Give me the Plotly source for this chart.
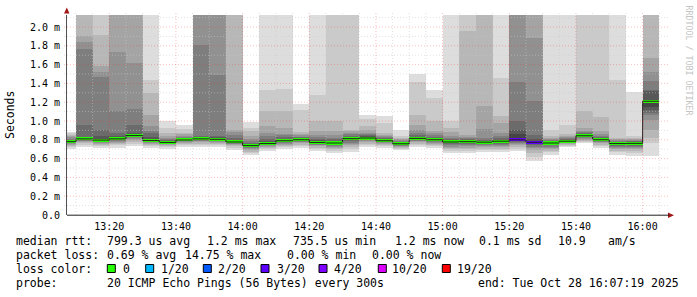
import plotly.graph_objects as go
import pandas as pd

# ---------------- data (ms) ----------------
# 20 sorted ping RTTs per 5-minute interval (values above ~2.13 ms are clipped by the axis)
s00 = [0.700, 0.720, 0.735, 0.745, 0.755, 0.762, 0.768, 0.772, 0.776, 0.779, 0.782, 0.786, 0.790, 0.800, 0.810, 0.825, 0.840, 0.855, 0.870, 0.880]
s01 = [0.725, 0.750, 0.765, 0.775, 0.785, 0.792, 0.797, 0.801, 0.805, 0.808, 0.812, 0.818, 0.830, 0.960, 1.770, 1.840, 1.900, 2.300, 2.500, 2.700]
s02 = [0.710, 0.735, 0.750, 0.760, 0.770, 0.778, 0.784, 0.789, 0.793, 0.795, 0.800, 0.810, 0.840, 0.907, 1.470, 1.520, 1.590, 1.920, 2.400, 2.800]
s03 = [0.715, 0.740, 0.755, 0.768, 0.778, 0.787, 0.794, 0.800, 0.804, 0.807, 0.815, 0.830, 0.845, 0.872, 1.110, 1.730, 2.200, 2.400, 2.600, 2.800]
s04 = [0.735, 0.760, 0.780, 0.795, 0.810, 0.820, 0.828, 0.834, 0.839, 0.842, 0.850, 0.860, 0.872, 0.961, 1.131, 1.617, 2.200, 2.400, 2.600, 2.800]
s05 = [0.715, 0.735, 0.750, 0.760, 0.768, 0.775, 0.780, 0.785, 0.788, 0.790, 0.800, 0.810, 0.830, 0.870, 0.890, 0.943, 1.067, 1.297, 1.432, 2.500]
s06 = [0.700, 0.720, 0.735, 0.745, 0.752, 0.758, 0.763, 0.766, 0.769, 0.771, 0.775, 0.780, 0.785, 0.795, 0.805, 0.820, 0.840, 0.870, 0.925, 1.003]
s07 = [0.720, 0.740, 0.755, 0.765, 0.775, 0.782, 0.787, 0.791, 0.794, 0.796, 0.800, 0.805, 0.810, 0.820, 0.830, 0.845, 0.860, 0.872, 0.918, 0.961]
s08 = [0.720, 0.745, 0.760, 0.772, 0.782, 0.790, 0.797, 0.802, 0.806, 0.808, 0.815, 0.825, 0.835, 0.845, 1.810, 2.200, 2.350, 2.500, 2.650, 2.800]
s09 = [0.720, 0.740, 0.755, 0.767, 0.777, 0.785, 0.792, 0.797, 0.801, 0.803, 0.810, 0.820, 0.830, 0.840, 1.493, 2.200, 2.350, 2.500, 2.650, 2.800]
s10 = [0.690, 0.715, 0.730, 0.742, 0.752, 0.760, 0.766, 0.770, 0.773, 0.775, 0.780, 0.790, 0.800, 0.820, 0.850, 0.880, 0.907, 2.300, 2.500, 2.700]
s11 = [0.640, 0.660, 0.675, 0.690, 0.700, 0.710, 0.720, 0.728, 0.733, 0.737, 0.745, 0.752, 0.760, 0.770, 0.785, 0.810, 0.840, 0.890, 0.925, 0.985]
s12 = [0.680, 0.700, 0.715, 0.725, 0.735, 0.742, 0.748, 0.752, 0.756, 0.758, 0.765, 0.775, 0.790, 0.810, 0.840, 0.872, 0.950, 1.110, 1.326, 2.500]
s13 = [0.700, 0.720, 0.735, 0.748, 0.758, 0.767, 0.775, 0.780, 0.785, 0.788, 0.795, 0.800, 0.810, 0.830, 0.850, 0.865, 0.925, 1.103, 1.340, 2.500]
s14 = [0.715, 0.735, 0.750, 0.762, 0.772, 0.780, 0.787, 0.792, 0.796, 0.799, 0.805, 0.810, 0.815, 0.825, 0.835, 0.850, 0.865, 0.880, 1.120, 1.184]
s15 = [0.680, 0.700, 0.718, 0.730, 0.742, 0.750, 0.757, 0.763, 0.767, 0.770, 0.778, 0.785, 0.795, 0.810, 0.830, 0.850, 0.890, 1.000, 1.280, 2.500]
s16 = [0.660, 0.680, 0.700, 0.715, 0.728, 0.738, 0.747, 0.754, 0.760, 0.764, 0.770, 0.778, 0.790, 0.805, 0.820, 0.850, 0.890, 0.996, 2.300, 2.600]
s17 = [0.670, 0.700, 0.720, 0.740, 0.755, 0.770, 0.783, 0.795, 0.803, 0.809, 0.817, 0.825, 0.835, 0.845, 0.860, 0.875, 0.890, 0.907, 2.300, 2.600]
s18 = [0.720, 0.745, 0.760, 0.775, 0.787, 0.797, 0.804, 0.810, 0.814, 0.817, 0.823, 0.830, 0.838, 0.848, 0.860, 0.870, 0.900, 0.950, 1.020, 1.067]
s19 = [0.710, 0.730, 0.745, 0.757, 0.767, 0.774, 0.780, 0.784, 0.787, 0.789, 0.793, 0.798, 0.805, 0.815, 0.830, 0.840, 0.855, 0.870, 0.980, 1.050]
s20 = [0.687, 0.700, 0.712, 0.722, 0.730, 0.737, 0.743, 0.748, 0.752, 0.755, 0.762, 0.767, 0.773, 0.780, 0.788, 0.797, 0.807, 0.820, 0.843, 0.907]
s21 = [0.720, 0.745, 0.760, 0.772, 0.782, 0.790, 0.797, 0.803, 0.808, 0.812, 0.818, 0.825, 0.835, 0.850, 0.870, 0.907, 0.960, 1.060, 1.415, 1.503]
s22 = [0.710, 0.730, 0.745, 0.757, 0.767, 0.776, 0.783, 0.790, 0.795, 0.798, 0.805, 0.812, 0.820, 0.835, 0.850, 0.870, 0.890, 0.996, 1.250, 1.333]
s23 = [0.660, 0.685, 0.700, 0.715, 0.728, 0.740, 0.752, 0.762, 0.769, 0.774, 0.780, 0.787, 0.795, 0.805, 0.820, 0.845, 0.880, 0.930, 1.000, 2.500]
s24 = [0.660, 0.685, 0.700, 0.715, 0.730, 0.742, 0.755, 0.765, 0.772, 0.777, 0.785, 0.790, 0.800, 0.810, 0.820, 0.835, 0.854, 1.953, 2.400, 2.700]
s25 = [0.670, 0.690, 0.705, 0.720, 0.733, 0.745, 0.755, 0.763, 0.769, 0.773, 0.778, 0.783, 0.790, 0.800, 0.820, 0.915, 1.155, 2.300, 2.500, 2.700]
s26 = [0.670, 0.690, 0.705, 0.720, 0.735, 0.748, 0.758, 0.768, 0.776, 0.782, 0.790, 0.795, 0.803, 0.815, 0.840, 0.872, 0.980, 1.055, 1.457, 2.500]
s27 = [0.677, 0.700, 0.720, 0.740, 0.755, 0.768, 0.778, 0.786, 0.792, 0.797, 0.820, 0.860, 0.907, 0.996, 1.420, 2.200, 2.350, 2.500, 2.650, 2.800]
s28 = [0.570, 0.620, 0.660, 0.690, 0.710, 0.728, 0.742, 0.754, 0.764, 0.770, 0.780, 0.790, 0.810, 0.854, 1.210, 1.883, 2.300, 2.450, 2.600, 2.750]
s29 = [0.640, 0.665, 0.685, 0.700, 0.715, 0.728, 0.740, 0.750, 0.758, 0.763, 0.770, 0.775, 0.780, 0.788, 0.797, 0.807, 0.820, 0.836, 0.907, 2.500]
s30 = [0.720, 0.735, 0.748, 0.758, 0.765, 0.770, 0.775, 0.779, 0.782, 0.784, 0.790, 0.795, 0.800, 0.810, 0.820, 0.830, 0.845, 0.862, 0.961, 2.500]
s31 = [0.766, 0.780, 0.792, 0.802, 0.810, 0.818, 0.825, 0.832, 0.837, 0.840, 0.848, 0.855, 0.862, 0.870, 0.880, 0.895, 0.925, 1.102, 2.300, 2.600]
s32 = [0.713, 0.735, 0.750, 0.762, 0.772, 0.780, 0.787, 0.792, 0.796, 0.799, 0.805, 0.810, 0.820, 0.830, 0.845, 0.865, 0.890, 1.042, 2.300, 2.600]
s33 = [0.640, 0.665, 0.685, 0.700, 0.713, 0.725, 0.735, 0.745, 0.752, 0.757, 0.765, 0.770, 0.775, 0.780, 0.787, 0.795, 0.805, 0.820, 1.432, 2.500]
s34 = [0.624, 0.660, 0.685, 0.700, 0.715, 0.728, 0.738, 0.748, 0.755, 0.759, 0.765, 0.770, 0.775, 0.782, 0.790, 0.798, 0.806, 0.815, 0.836, 1.305]
s35 = [0.624, 0.766, 0.820, 0.907, 1.010, 1.066, 1.090, 1.120, 1.150, 1.195, 1.215, 1.227, 1.315, 1.330, 1.421, 1.517, 1.669, 2.300, 2.500, 2.700]

pings = [s00, s01, s02, s03, s04, s05, s06, s07, s08, s09, s10, s11, s12, s13, s14, s15, s16, s17,
         s18, s19, s20, s21, s22, s23, s24, s25, s26, s27, s28, s29, s30, s31, s32, s33, s34, s35]

median_rtt = [0.780, 0.810, 0.797, 0.810, 0.845, 0.792, 0.772, 0.798, 0.810, 0.805, 0.777, 0.738,
              0.760, 0.790, 0.801, 0.772, 0.766, 0.812, 0.819, 0.790, 0.758, 0.815, 0.801, 0.777,
              0.780, 0.775, 0.785, 0.800, 0.773, 0.766, 0.785, 0.843, 0.801, 0.760, 0.762, 1.210]

loss_pct = [0, 0, 0, 0, 0, 0, 0, 0, 0, 0, 0, 0, 0, 0, 0, 0, 0, 0,
            0, 0, 0, 0, 0, 0, 0, 0, 0, 10.05, 14.75, 0, 0, 0, 0, 0, 0, 0]

loss_labels = ["0", "1/20", "2/20", "3/20", "4/20", "10/20", "19/20"]
loss_thresholds = [0, 1, 2, 3, 4, 10, 19]
loss_colors = ["#26ff00", "#00b8ff", "#0059ff", "#5e00ff", "#7e00ff", "#dd00ff", "#ff0000"]

y_tickvals = [0.0, 0.2, 0.4, 0.6, 0.8, 1.0, 1.2, 1.4, 1.6, 1.8, 2.0]
y_ticktext = ["0.0", "0.2 m", "0.4 m", "0.6 m", "0.8 m", "1.0 m", "1.2 m", "1.4 m", "1.6 m", "1.8 m", "2.0 m"]

stats_rtt = ["median rtt:", "799.3 us avg", "1.2 ms max", "735.5 us min", "1.2 ms now", "0.1 ms sd", "10.9", "am/s"]
stats_loss = ["packet loss:", "0.69 % avg", "14.75 % max", "0.00 % min", "0.00 % now"]
probe_text = ["probe:", "20 ICMP Echo Pings (56 Bytes) every 300s", "end: Tue Oct 28 16:07:19 2025"]

# ---------------- helpers ----------------
interval_start = pd.date_range("2025-10-28 13:05:00", periods=len(pings), freq="5min")
step = pd.Timedelta(minutes=5)
centers = interval_start + step / 2
x_start = pd.Timestamp("2025-10-28 13:07:19")
x_end = pd.Timestamp("2025-10-28 16:07:19")

band_colors = ["#dddddd", "#cacaca", "#b7b7b7", "#a4a4a4", "#919191",
               "#7e7e7e", "#6b6b6b", "#585858", "#454545", "#323232"]

L, R, T, B = 67, 30, 15, 82
W, H = 697, 297
PW, PH = W - L - R, H - T - B


def px(xp):
    return (xp - L) / PW


def py(yp):
    return (H - B - yp) / PH


def loss_color(p):
    cnt = p / 5.0
    for th, c in zip(loss_thresholds, loss_colors):
        if cnt <= th:
            return c
    return loss_colors[-1]


MONO = "DejaVu Sans Mono"
fig = go.Figure()

# smoke bands
for k in range(10):
    lo = [p[k] for p in pings]
    hi = [p[19 - k] for p in pings]
    fig.add_trace(go.Bar(
        x=centers, base=lo, y=[h - l for h, l in zip(hi, lo)],
        width=step.total_seconds() * 1000,
        marker=dict(color=band_colors[k], line=dict(width=0)),
        hoverinfo="skip", showlegend=False))

# thin median step line
fig.add_trace(go.Scatter(
    x=list(interval_start) + [interval_start[-1] + step],
    y=median_rtt + [median_rtt[-1]],
    mode="lines", line=dict(color="#202020", width=1, shape="hv"),
    hoverinfo="skip", showlegend=False))

# coloured median (loss colour)
mh = 0.032
fig.add_trace(go.Bar(
    x=centers, base=[m - mh / 2 for m in median_rtt], y=[mh] * len(median_rtt),
    width=step.total_seconds() * 1000,
    marker=dict(color=[loss_color(p) for p in loss_pct], line=dict(width=0)),
    hoverinfo="skip", showlegend=False))

shapes = []
MINOR = "rgba(200,200,200,0.55)"
MAJOR = "rgba(255,40,40,0.30)"
# horizontal grid
for i in range(1, 22):
    v = i * 0.1
    shapes.append(dict(type="line", xref="paper", yref="y", x0=px(64), x1=px(669), y0=v, y1=v,
                       line=dict(color=MAJOR if i % 2 == 0 else MINOR, width=1, dash="1px,2px"),
                       layer="above"))
# vertical grid
for t in pd.date_range("2025-10-28 13:10:00", "2025-10-28 16:05:00", freq="5min"):
    major = (t.minute % 20 == 0)
    shapes.append(dict(type="line", xref="x", yref="paper", x0=t, x1=t, y0=0, y1=py(13),
                       line=dict(color=MAJOR if major else MINOR, width=1, dash="1px,2px"),
                       layer="above"))
# axis arrows
shapes.append(dict(type="path", xref="paper", yref="paper",
                   path=f"M {px(64)} {py(13.5)} L {px(69.5)} {py(13.5)} L {px(66.8)} {py(7.5)} Z",
                   fillcolor="#a01818", line=dict(width=0), layer="above"))
shapes.append(dict(type="path", xref="paper", yref="paper",
                   path=f"M {px(668)} {py(212.5)} L {px(668)} {py(218)} L {px(674)} {py(215.2)} Z",
                   fillcolor="#a01818", line=dict(width=0), layer="above"))
# x axis line extension to the arrow
shapes.append(dict(type="line", xref="paper", yref="paper", x0=0, x1=px(669), y0=py(215.2), y1=py(215.2),
                   line=dict(color="#202020", width=1), layer="above"))

annotations = []
# y axis title
annotations.append(dict(text="Seconds", x=px(10), y=py(115), xref="paper", yref="paper",
                        textangle=-90, showarrow=False, xanchor="center", yanchor="middle",
                        font=dict(family=MONO, size=11.5, color="#000000")))
# watermark
annotations.append(dict(text="RRDTOOL / TOBI OETIKER", x=px(688.5), y=py(60), xref="paper", yref="paper",
                        textangle=90, showarrow=False, xanchor="center", yanchor="middle",
                        font=dict(family=MONO, size=8.3, color="#c4c4c4")))


def add_text(txt, xp, yp, size=11.5):
    annotations.append(dict(text=txt.replace(" ", "\u00a0"), x=px(xp), y=py(yp), xref="paper", yref="paper",
                            showarrow=False, xanchor="left", yanchor="middle", borderpad=0,
                            font=dict(family=MONO, size=size, color="#000000")))


rtt_x = [16, 107.3, 206.7, 293.3, 395, 479.3, 558.3, 607.7]
for t, xp in zip(stats_rtt, rtt_x):
    add_text(t, xp - 1, 240.5)
loss_x = [16, 107.3, 185, 286.7, 372.3]
for t, xp in zip(stats_loss, loss_x):
    add_text(t, xp - 1, 254.5)
add_text("loss color:", 15, 268.5)
box_x = [107.3, 145.7, 203.3, 261, 319, 378.3, 442.3]
lab_x = [123.3, 160.7, 218.3, 276.5, 334.3, 391.7, 456.7]
for lab, c, bx, lx in zip(loss_labels, loss_colors, box_x, lab_x):
    shapes.append(dict(type="rect", xref="paper", yref="paper",
                       x0=px(bx), x1=px(bx + 8), y0=py(272.5), y1=py(264.5),
                       fillcolor=c, line=dict(color="#000000", width=1), layer="above"))
    add_text(lab, lx - 1, 268.5)
probe_x = [16, 107.3, 478.3]
for t, xp in zip(probe_text, probe_x):
    add_text(t, xp - 1, 282.5)

fig.update_layout(
    width=W, height=H, margin=dict(l=L, r=R, t=T, b=B),
    paper_bgcolor="#ffffff", plot_bgcolor="#ffffff",
    barmode="overlay", bargap=0, showlegend=False,
    shapes=shapes, annotations=annotations,
)
fig.update_xaxes(
    type="date", range=[x_start, x_end], tickformat="%H:%M",
    tick0="2025-10-28 13:20:00", dtick=20 * 60 * 1000,
    showgrid=False, zeroline=False, showline=False,
    ticks="outside", ticklen=2, tickcolor="rgba(0,0,0,0)",
    tickfont=dict(family=MONO, size=10, color="#000000"),
)
fig.update_yaxes(
    range=[0, PH / 94.0], tickvals=y_tickvals, ticktext=y_ticktext,
    showgrid=False, zeroline=False, showline=True, linecolor="#505050", linewidth=1,
    ticks="outside", ticklen=4, tickcolor="rgba(0,0,0,0)",
    tickfont=dict(family=MONO, size=10, color="#000000"),
)

fig.write_html("out.html")
